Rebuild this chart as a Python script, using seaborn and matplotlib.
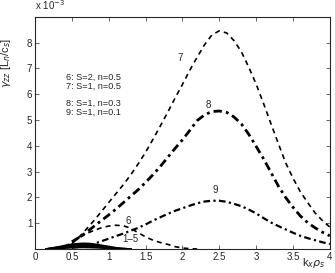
import numpy as np
import pandas as pd
import seaborn as sns
import matplotlib.pyplot as plt

# growth rates in units of 1e-3
k = [0.5, 0.6, 0.7, 0.8, 0.9, 1.0, 1.1, 1.2, 1.3, 1.4, 1.5, 1.6, 1.7, 1.8, 1.9,
     2.0, 2.1, 2.2, 2.3, 2.4, 2.5, 2.6, 2.7, 2.8, 2.9, 3.0, 3.1, 3.2, 3.3, 3.4,
     3.5, 3.6, 3.7, 3.8, 3.9, 4.0]
g7 = [0.2, 0.47, 0.78, 1.1, 1.45, 1.8, 2.15, 2.5, 2.88, 3.3, 3.75, 4.25, 4.77, 5.3, 5.85,
      6.38, 6.93, 7.44, 7.92, 8.3, 8.46, 8.38, 8.08, 7.65, 7.05, 6.4, 5.65, 4.87, 4.1, 3.35,
      2.75, 2.22, 1.8, 1.4, 1.1, 0.85]
g8 = [0.28, 0.45, 0.65, 0.88, 1.1, 1.32, 1.55, 1.8, 2.05, 2.3, 2.58, 2.88, 3.2, 3.55, 3.9,
      4.23, 4.6, 4.98, 5.2, 5.33, 5.35, 5.3, 5.12, 4.85, 4.45, 3.98, 3.5, 2.98, 2.45, 2.0,
      1.62, 1.28, 1.02, 0.82, 0.65, 0.51]
g9 = [0.05, 0.08, 0.12, 0.2, 0.3, 0.4, 0.5, 0.6, 0.71, 0.82, 0.95, 1.1, 1.23, 1.36, 1.48,
      1.58, 1.68, 1.77, 1.84, 1.87, 1.87, 1.83, 1.75, 1.66, 1.53, 1.38, 1.2, 1.03, 0.89, 0.76,
      0.63, 0.51, 0.42, 0.34, 0.26, 0.19]

k6 = [0.4, 0.5, 0.6, 0.7, 0.8, 0.9, 1.0, 1.1, 1.2, 1.3, 1.4, 1.5, 1.6, 1.7, 1.8,
      1.9, 2.0, 2.1, 2.2]
g6 = [0.1, 0.25, 0.43, 0.6, 0.72, 0.82, 0.89, 0.92, 0.9, 0.8, 0.63, 0.47, 0.34, 0.25, 0.18,
      0.09, 0.04, 0.01, 0.0]

k15 = [0.15, 0.25, 0.35, 0.45, 0.55, 0.65, 0.75, 0.85, 0.95, 1.05, 1.15, 1.3]
g1 = [0.0, 0.01, 0.025, 0.04, 0.055, 0.06, 0.055, 0.045, 0.03, 0.015, 0.005, 0.0]
g2 = [0.0, 0.02, 0.045, 0.07, 0.09, 0.1, 0.095, 0.08, 0.055, 0.03, 0.01, 0.0]
g3 = [0.0, 0.03, 0.065, 0.1, 0.125, 0.14, 0.135, 0.11, 0.08, 0.045, 0.015, 0.0]
g4 = [0.0, 0.04, 0.085, 0.13, 0.16, 0.18, 0.17, 0.14, 0.1, 0.06, 0.02, 0.0]
g5 = [0.0, 0.05, 0.1, 0.16, 0.2, 0.22, 0.21, 0.17, 0.12, 0.07, 0.025, 0.0]

legend_lines = ["6: S=2, n=0.5", "7: S=1, n=0.5", "8: S=1, n=0.3", "9: S=1, n=0.1"]
legend_y = [6.65, 6.31, 5.65, 5.31]

sns.set_style("ticks")
plt.rcParams['font.family'] = ['Liberation Sans', 'DejaVu Sans']
plt.rcParams['xtick.direction'] = 'in'
plt.rcParams['ytick.direction'] = 'in'

fig = plt.figure(figsize=(3.35, 2.73), dpi=100)
ax = fig.add_axes([0.1045, 0.088, 0.88, 0.85])

dashed = (0, (3, 2.5))
dashdot = (0, (3, 1.5, 1, 1.5))

df_main = pd.DataFrame({"k": k, "g7": g7, "g8": g8, "g9": g9})
sns.lineplot(data=df_main, x="k", y="g7", ax=ax, color="black", lw=1.2, linestyle=dashed)
sns.lineplot(data=df_main, x="k", y="g8", ax=ax, color="black", lw=2.0, linestyle=dashdot)
sns.lineplot(data=df_main, x="k", y="g9", ax=ax, color="black", lw=1.6, linestyle=dashdot)
df6 = pd.DataFrame({"k": k6, "g": g6})
sns.lineplot(data=df6, x="k", y="g", ax=ax, color="black", lw=1.2, linestyle=dashed)
for g in [g1, g2, g3, g4, g5]:
    d = pd.DataFrame({"k": k15, "g": g})
    sns.lineplot(data=d, x="k", y="g", ax=ax, color="black", lw=1.2)

ax.set_xlim(0, 4)
ax.set_ylim(0, 9)
ax.set_xticks([0, 0.5, 1, 1.5, 2, 2.5, 3, 3.5, 4])
ax.set_xticklabels(["0", "0.5", "1", "1.5", "2", "2.5", "3", "3.5", "4"])
ax.set_yticks([1, 2, 3, 4, 5, 6, 7, 8])
ax.tick_params(labelsize=7, length=3, width=0.5, top=True, right=True, pad=2)
for s in ax.spines.values():
    s.set_linewidth(0.8)
ax.set_xlabel("")
ax.set_ylabel(r"$\gamma_{zz}$ [L$_n$/c$_s$]", fontsize=8, labelpad=4)
ax.yaxis.set_label_coords(-0.075, 0.8)

ax.text(3.78, -0.55, r"k$_x$$\rho_s$", fontsize=8, ha="center", va="center")
fig.text(0.105, 0.955, r"x 10$^{-3}$", fontsize=7, ha="left", va="bottom")

for t, y in zip(legend_lines, legend_y):
    ax.text(0.42, y, t, fontsize=6.6, va="center")

ax.text(1.97, 7.42, "7", fontsize=7, ha="center", va="center")
ax.text(2.35, 5.6, "8", fontsize=7, ha="center", va="center")
ax.text(2.45, 2.3, "9", fontsize=7, ha="center", va="center")
ax.text(1.27, 1.08, "6", fontsize=7, ha="center", va="center")
ax.text(1.29, 0.38, "1\u20135", fontsize=7, ha="center", va="center")

fig.savefig("out.png", dpi=100)
